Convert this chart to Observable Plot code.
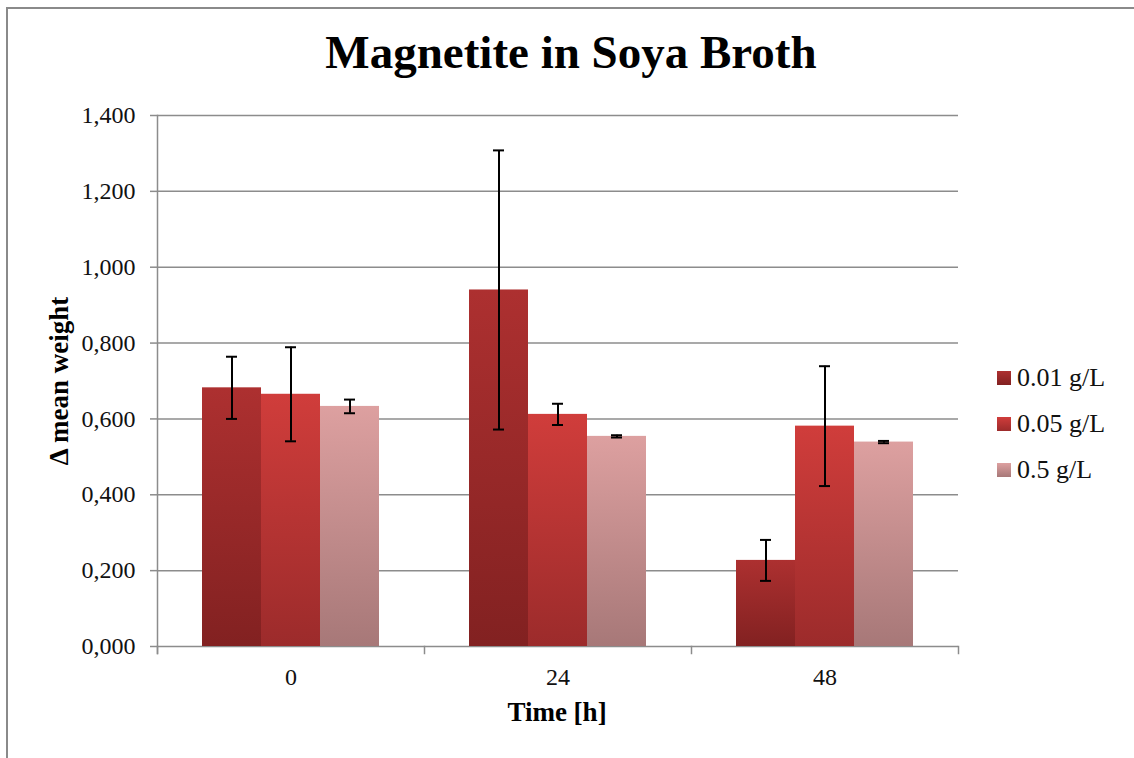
<!DOCTYPE html>
<html>
<head>
<meta charset="utf-8">
<script src="https://cdn.jsdelivr.net/npm/d3@7"></script>
<script src="https://cdn.jsdelivr.net/npm/@observablehq/plot@0.6"></script>
<style>
  html, body { margin: 0; padding: 0; background: #fff; }
  #wrap { position: relative; width: 1134px; height: 758px; overflow: hidden; background: #fff; font-family: "Liberation Serif", "DejaVu Serif", serif; color: #111; }
  #chart { position: absolute; left: 0; top: 0; }
  .bline { position: absolute; background: #8a8a8a; }
  #title { position: absolute; left: 0; width: 1142px; top: 29px; text-align: center; font-size: 47px; line-height: 47px; font-weight: bold; color: #000; }
  #xtitle { position: absolute; left: 407px; width: 300px; top: 699px; text-align: center; font-size: 27px; line-height: 27px; font-weight: bold; color: #000; }
  #ytitle { position: absolute; left: 59px; top: 381px; transform: translate(-50%, -50%) rotate(-90deg); white-space: nowrap; font-size: 27px; line-height: 27px; font-weight: bold; color: #000; }
  #legend { position: absolute; left: 997px; top: 355px; }
  .row { display: flex; align-items: center; height: 46px; font-size: 26px; color: #111; white-space: nowrap; }
  .sw { width: 14px; height: 14px; margin-right: 6px; }
</style>
</head>
<body>
<div id="wrap">
  <div class="bline" style="left:6px;top:7px;width:1200px;height:2px;"></div>
  <div class="bline" style="left:6px;top:7px;width:2px;height:800px;"></div>
  <div id="chart"></div>
  <div id="title">Magnetite in Soya Broth</div>
  <div id="xtitle">Time [h]</div>
  <div id="ytitle">Δ mean weight</div>
  <div id="legend"></div>
</div>
<script>
// ---- data ----
const times = ["0", "24", "48"];
const concs = ["0.01 g/L", "0.05 g/L", "0.5 g/L"];
const means001 = [0.682, 0.940, 0.227];
const means005 = [0.665, 0.612, 0.581];
const means05  = [0.633, 0.554, 0.539];
const errs001 = [0.082, 0.368, 0.054];
const errs005 = [0.124, 0.028, 0.158];
const errs05  = [0.018, 0.003, 0.003];
const yTicks = [0, 0.2, 0.4, 0.6, 0.8, 1.0, 1.2, 1.4];
const yTickLabels = ["0,000", "0,200", "0,400", "0,600", "0,800", "1,000", "1,200", "1,400"];

// gradient colors per series (top, bottom)
const gradTop = ["#ad3030", "#d03d3b", "#dda0a0"];
const gradBottom = ["#822121", "#9c2b2b", "#a77878"];

const seriesMeans = [means001, means005, means05];
const seriesErrs = [errs001, errs005, errs05];
const data = [];
times.forEach((t, i) => {
  concs.forEach((c, j) => {
    data.push({time: t, conc: c, si: j, value: seriesMeans[j][i], err: seriesErrs[j][i]});
  });
});

const gridColor = "#8c8c8c";
const fontFam = '"Liberation Serif", "DejaVu Serif", serif';

const chart = Plot.plot({
  width: 1134,
  height: 758,
  marginTop: 115,
  marginBottom: 112,
  marginLeft: 157,
  marginRight: 176,
  style: {fontFamily: fontFam, fontSize: "24px", color: "#111", background: "transparent"},
  fx: {domain: times, paddingInner: 0, paddingOuter: 0, label: null},
  x: {domain: concs, paddingInner: 0, paddingOuter: 0.74, axis: null},
  y: {domain: [0, 1.4], label: null},
  marks: [
    Plot.gridY(yTicks, {stroke: gridColor, strokeOpacity: 1, strokeWidth: 1.5}),
    Plot.frame({anchor: "left", facetAnchor: "left", stroke: gridColor, strokeOpacity: 1, strokeWidth: 1.5, insetBottom: -7}),
    Plot.frame({anchor: "left", stroke: gridColor, strokeOpacity: 1, strokeWidth: 1.5, insetTop: 531, insetBottom: -7}),
    Plot.frame({anchor: "right", facetAnchor: "right", stroke: gridColor, strokeOpacity: 1, strokeWidth: 1.5, insetTop: 531, insetBottom: -7}),
    Plot.axisY({ticks: yTicks, tickFormat: (d, i) => yTickLabels[i], tickSize: 7, tickPadding: 15, stroke: gridColor, strokeWidth: 1.5, fontSize: 24, label: null, fill: "#111"}),
    Plot.axisFx({anchor: "bottom", tickSize: 0, tickPadding: 21, fontSize: 24, label: null, fill: "#111"}),
    Plot.barY(data, {fx: "time", x: "conc", y: "value", fill: d => `url(#grad${d.si})`, ariaLabel: "bars"}),
    Plot.ruleX(data, {fx: "time", x: "conc", y1: d => d.value - d.err, y2: d => d.value + d.err, stroke: "#000", strokeWidth: 2}),
    Plot.tickY(data, {fx: "time", x: "conc", y: d => d.value - d.err, stroke: "#000", strokeWidth: 2, inset: 24}),
    Plot.tickY(data, {fx: "time", x: "conc", y: d => d.value + d.err, stroke: "#000", strokeWidth: 2, inset: 24})
  ]
});

// gradients and shadow
const svg = d3.select(chart);
const defs = svg.insert("defs", ":first-child");
gradTop.forEach((top, k) => {
  const g = defs.append("linearGradient").attr("id", `grad${k}`).attr("x1", 0).attr("y1", 0).attr("x2", 0).attr("y2", 1);
  g.append("stop").attr("offset", "0%").attr("stop-color", top);
  g.append("stop").attr("offset", "100%").attr("stop-color", gradBottom[k]);
});
const f = defs.append("filter").attr("id", "shadow").attr("x", "-20%").attr("y", "-20%").attr("width", "140%").attr("height", "140%");
f.append("feDropShadow").attr("dx", 2).attr("dy", 2).attr("stdDeviation", 2).attr("flood-color", "#000").attr("flood-opacity", 0.3);
svg.selectAll('g[aria-label="bars"]').attr("filter", "url(#shadow)");

document.getElementById("chart").appendChild(chart);

// legend
const legend = d3.select("#legend");
concs.forEach((c, k) => {
  const row = legend.append("div").attr("class", "row");
  row.append("div").attr("class", "sw").style("background", `linear-gradient(${gradTop[k]}, ${gradBottom[k]})`);
  row.append("span").text(c);
});
</script>
</body>
</html>
